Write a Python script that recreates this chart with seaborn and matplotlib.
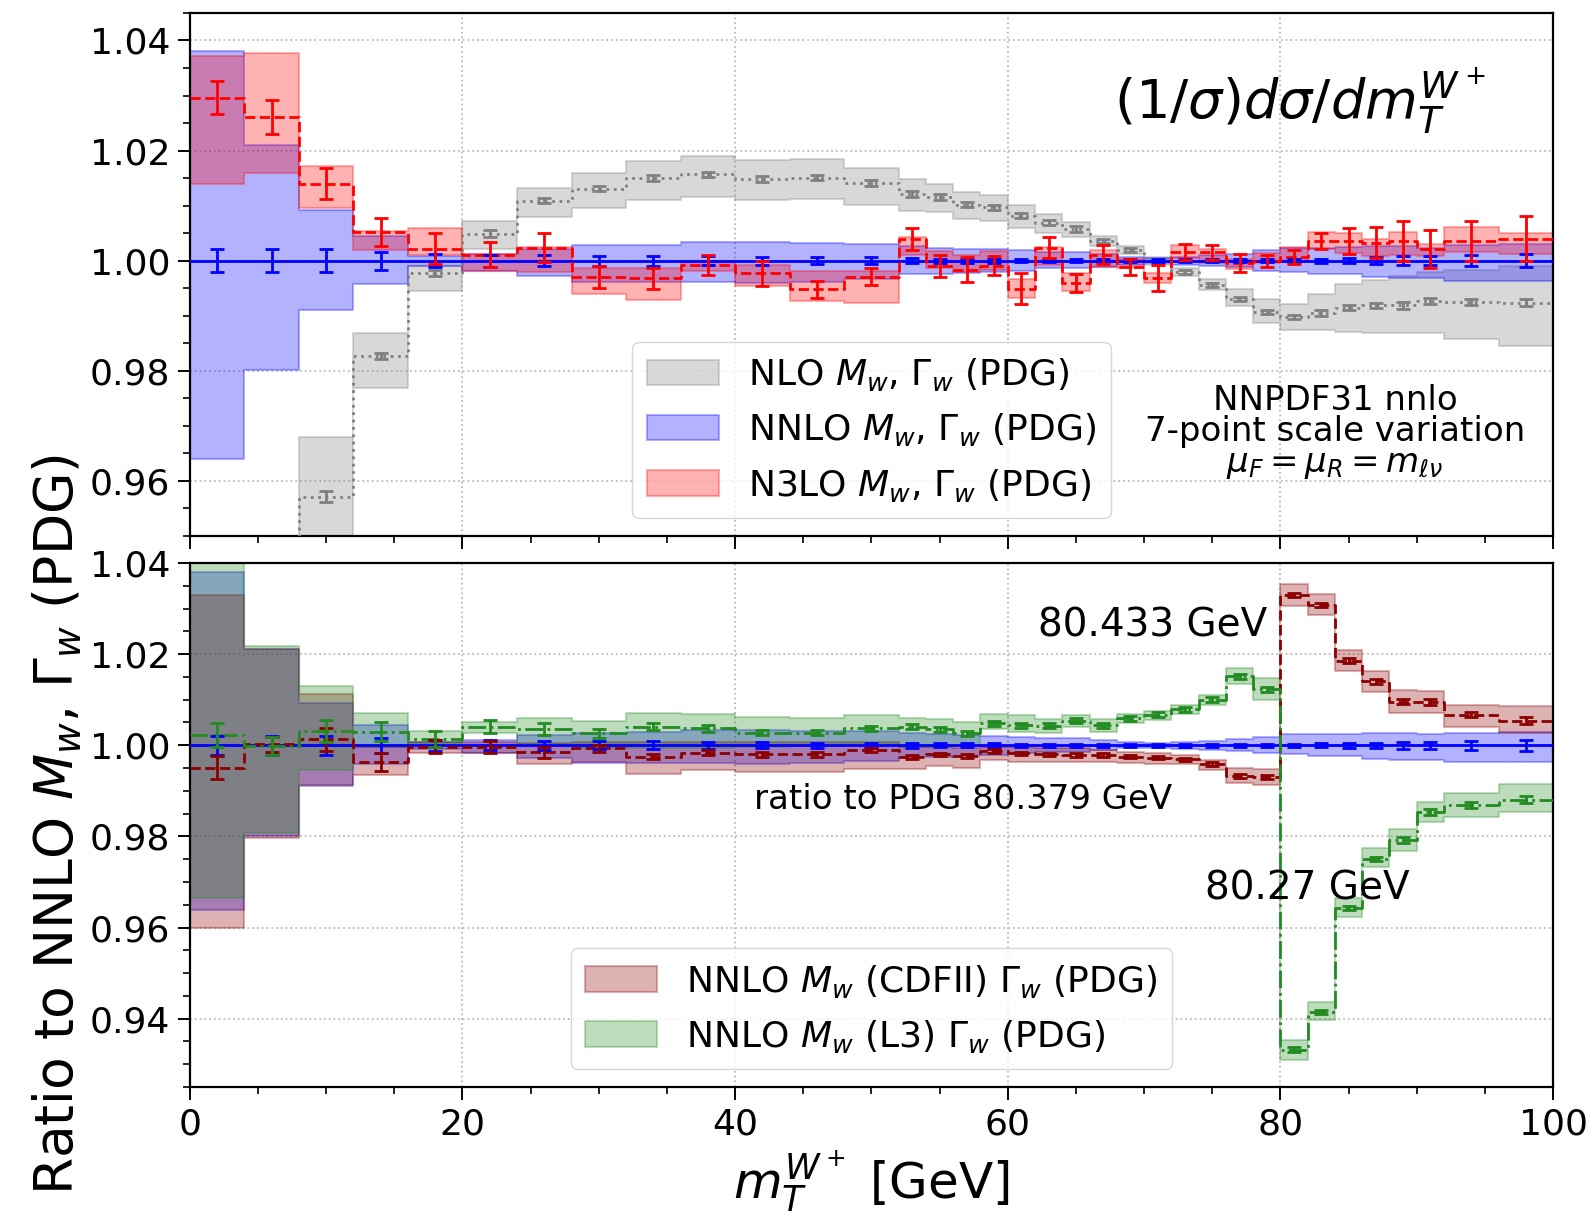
import numpy as np
import matplotlib
matplotlib.use("Agg")
import matplotlib.pyplot as plt
from matplotlib.patches import Patch
from matplotlib.ticker import MultipleLocator, FormatStrFormatter
import seaborn as sns

# ---------------------------------------------------------------- binning
bin_edges = [0, 4, 8, 12, 16, 20, 24, 28, 32, 36, 40, 44, 48, 52,
             54, 56, 58, 60, 62, 64, 66, 68, 70, 72, 74, 76, 78, 80,
             82, 84, 86, 88, 90, 92, 96, 100]

# ---------------------------------------------------------------- NNLO, PDG (reference)
nnlo_val = [1.0] * 35
nnlo_err = [0.0021, 0.0021, 0.0021, 0.0016, 0.0012, 0.0011, 0.0010, 0.0009,
            0.0009, 0.0008, 0.0007, 0.0006, 0.0006, 0.0005, 0.0004, 0.0004,
            0.0004, 0.0003, 0.0003, 0.0003, 0.0003, 0.0003, 0.0003, 0.0003,
            0.0003, 0.0003, 0.0003, 0.0003, 0.0004, 0.0005, 0.0006, 0.0008,
            0.0008, 0.0010, 0.0012]
nnlo_hi = [1.0381, 1.0211, 1.0093, 1.0045, 1.0008, 1.0012, 1.0022, 1.0028,
           1.0029, 1.0034, 1.0034, 1.0032, 1.0031, 1.0026, 1.0024, 1.0022,
           1.0021, 1.0019, 1.0016, 1.0016, 1.0012, 1.0007, 1.0005, 1.0007,
           1.0010, 1.0013, 1.0019, 1.0024, 1.0024, 1.0025, 1.0026, 1.0027,
           1.0024, 1.0028, 1.0030]
nnlo_lo = [0.9639, 0.9802, 0.9911, 0.9958, 0.9991, 0.9982, 0.9972, 0.9961,
           0.9961, 0.9961, 0.9960, 0.9962, 0.9966, 0.9975, 0.9975, 0.9977,
           0.9979, 0.9982, 0.9986, 0.9986, 0.9989, 0.9993, 0.9995, 0.9992,
           0.9990, 0.9988, 0.9982, 0.9980, 0.9976, 0.9976, 0.9970, 0.9968,
           0.9968, 0.9964, 0.9964]

# ---------------------------------------------------------------- NLO, PDG
nlo_val = [0.9000, 0.9250, 0.9571, 0.9827, 0.9978, 1.0049, 1.0109, 1.0131,
           1.0150, 1.0157, 1.0148, 1.0151, 1.0141, 1.0121, 1.0116, 1.0102,
           1.0097, 1.0082, 1.0069, 1.0058, 1.0036, 1.0019, 0.9999, 0.9979,
           0.9956, 0.9931, 0.9907, 0.9898, 0.9905, 0.9915, 0.9919, 0.9919,
           0.9927, 0.9925, 0.9924]
nlo_err = [0.0020, 0.0020, 0.0010, 0.0006, 0.0006, 0.0006, 0.0005, 0.0005,
           0.0005, 0.0005, 0.0005, 0.0005, 0.0005, 0.0005, 0.0005, 0.0005,
           0.0005, 0.0005, 0.0005, 0.0005, 0.0004, 0.0004, 0.0004, 0.0004,
           0.0004, 0.0004, 0.0004, 0.0004, 0.0005, 0.0005, 0.0005, 0.0006,
           0.0006, 0.0006, 0.0006]
nlo_hi = [0.9300, 0.9450, 0.9680, 0.9869, 0.9990, 1.0072, 1.0132, 1.0160,
          1.0181, 1.0190, 1.0183, 1.0185, 1.0169, 1.0148, 1.0140, 1.0124,
          1.0120, 1.0102, 1.0084, 1.0070, 1.0045, 1.0027, 1.0006, 0.9987,
          0.9967, 0.9948, 0.9931, 0.9922, 0.9939, 0.9957, 0.9965, 0.9972,
          0.9979, 0.9984, 0.9990]
nlo_lo = [0.8800, 0.9100, 0.9440, 0.9769, 0.9945, 1.0021, 1.0079, 1.0096,
          1.0111, 1.0115, 1.0110, 1.0112, 1.0102, 1.0090, 1.0088, 1.0075,
          1.0073, 1.0060, 1.0051, 1.0043, 1.0027, 1.0013, 0.9992, 0.9972,
          0.9946, 0.9917, 0.9887, 0.9875, 0.9874, 0.9871, 0.9869, 0.9868,
          0.9868, 0.9857, 0.9846]

# ---------------------------------------------------------------- N3LO, PDG
n3lo_val = [1.0296, 1.0261, 1.0140, 1.0052, 1.0022, 1.0011, 1.0024, 0.9971,
            0.9968, 0.9992, 0.9977, 0.9948, 0.9971, 1.0040, 0.9990, 0.9984,
            0.9991, 0.9949, 1.0024, 0.9960, 1.0011, 0.9989, 0.9969, 1.0016,
            1.0015, 0.9996, 0.9999, 1.0007, 1.0036, 1.0036, 1.0033, 1.0036,
            1.0021, 1.0036, 1.0040]
n3lo_err = [0.0030, 0.0031, 0.0028, 0.0025, 0.0028, 0.0023, 0.0027, 0.0020,
            0.0019, 0.0018, 0.0023, 0.0016, 0.0015, 0.0020, 0.0020, 0.0023,
            0.0017, 0.0028, 0.0019, 0.0016, 0.0017, 0.0015, 0.0024, 0.0014,
            0.0014, 0.0017, 0.0011, 0.0013, 0.0014, 0.0024, 0.0028, 0.0037,
            0.0034, 0.0036, 0.0041]
n3lo_hi = [1.0372, 1.0378, 1.0172, 1.0054, 1.0059, 1.0013, 1.0025, 0.9987,
           0.9987, 0.9999, 0.9993, 0.9981, 0.9981, 1.0043, 1.0017, 1.0010,
           1.0017, 0.9966, 1.0025, 0.9977, 1.0019, 1.0003, 0.9978, 1.0028,
           1.0022, 1.0004, 1.0014, 1.0025, 1.0053, 1.0051, 1.0040, 1.0053,
           1.0030, 1.0061, 1.0050]
n3lo_lo = [1.0140, 1.0160, 1.0095, 1.0019, 1.0011, 0.9981, 0.9980, 0.9939,
           0.9929, 0.9981, 0.9954, 0.9927, 0.9924, 1.0010, 0.9987, 0.9980,
           0.9983, 0.9933, 0.9992, 0.9945, 0.9989, 0.9987, 0.9960, 1.0005,
           0.9995, 0.9985, 0.9995, 1.0000, 1.0021, 1.0014, 1.0008, 1.0010,
           1.0008, 1.0015, 1.0012]

# ---------------------------------------------------------------- NNLO, M_W from CDF II
cdf_val = [0.9951, 1.0002, 1.0013, 0.9964, 0.9997, 0.9997, 0.9985, 0.9993,
           0.9975, 0.9984, 0.9980, 0.9980, 0.9990, 0.9974, 0.9980, 0.9976,
           0.9987, 0.9982, 0.9980, 0.9979, 0.9979, 0.9975, 0.9973, 0.9969,
           0.9959, 0.9932, 0.9931, 1.0330, 1.0308, 1.0186, 1.0140, 1.0096,
           1.0095, 1.0067, 1.0054]
cdf_err = [0.0026, 0.0017, 0.0025, 0.0020, 0.0015, 0.0013, 0.0012, 0.0008,
           0.0006, 0.0006, 0.0005, 0.0005, 0.0005, 0.0005, 0.0004, 0.0004,
           0.0004, 0.0004, 0.0004, 0.0004, 0.0004, 0.0004, 0.0004, 0.0004,
           0.0004, 0.0004, 0.0004, 0.0004, 0.0004, 0.0005, 0.0005, 0.0006,
           0.0006, 0.0006, 0.0007]
cdf_hi = [1.0330, 1.0212, 1.0112, 0.9997, 1.0008, 1.0008, 1.0004, 1.0008,
          1.0008, 1.0008, 1.0008, 1.0008, 1.0008, 0.9997, 0.9997, 0.9993,
          0.9997, 0.9997, 0.9993, 0.9993, 0.9990, 0.9986, 0.9984, 0.9979,
          0.9968, 0.9950, 0.9949, 1.0355, 1.0333, 1.0208, 1.0163, 1.0122,
          1.0120, 1.0089, 1.0086]
cdf_lo = [0.9599, 0.9797, 0.9913, 0.9935, 0.9982, 0.9983, 0.9959, 0.9964,
          0.9938, 0.9945, 0.9942, 0.9942, 0.9948, 0.9947, 0.9955, 0.9950,
          0.9967, 0.9964, 0.9964, 0.9964, 0.9964, 0.9962, 0.9960, 0.9958,
          0.9946, 0.9918, 0.9913, 1.0306, 1.0286, 1.0164, 1.0118, 1.0070,
          1.0070, 1.0041, 1.0026]

# ---------------------------------------------------------------- NNLO, M_W from L3
l3_val = [1.0023, 0.9998, 1.0032, 1.0030, 1.0014, 1.0041, 1.0036, 1.0026,
          1.0041, 1.0037, 1.0028, 1.0028, 1.0037, 1.0041, 1.0035, 1.0026,
          1.0048, 1.0044, 1.0043, 1.0054, 1.0044, 1.0059, 1.0067, 1.0079,
          1.0100, 1.0151, 1.0123, 0.9332, 0.9415, 0.9643, 0.9750, 0.9792,
          0.9854, 0.9869, 0.9881]
l3_err = [0.0026, 0.0020, 0.0024, 0.0020, 0.0017, 0.0015, 0.0013, 0.0010,
          0.0008, 0.0007, 0.0006, 0.0006, 0.0006, 0.0005, 0.0005, 0.0005,
          0.0005, 0.0005, 0.0005, 0.0005, 0.0005, 0.0005, 0.0005, 0.0005,
          0.0005, 0.0005, 0.0005, 0.0005, 0.0005, 0.0005, 0.0005, 0.0006,
          0.0006, 0.0006, 0.0007]
l3_hi = [1.0420, 1.0218, 1.0130, 1.0070, 1.0032, 1.0052, 1.0060, 1.0053,
         1.0070, 1.0069, 1.0063, 1.0060, 1.0066, 1.0060, 1.0058, 1.0050,
         1.0069, 1.0066, 1.0057, 1.0066, 1.0057, 1.0069, 1.0076, 1.0088,
         1.0110, 1.0169, 1.0147, 0.9354, 0.9437, 0.9664, 0.9774, 0.9816,
         0.9876, 0.9896, 0.9915]
l3_lo = [0.9664, 0.9807, 0.9946, 0.9997, 1.0005, 1.0026, 0.9999, 0.9995,
         0.9995, 0.9995, 0.9997, 1.0000, 1.0005, 0.9996, 0.9996, 0.9998,
         1.0035, 1.0030, 1.0028, 1.0040, 1.0030, 1.0048, 1.0056, 1.0068,
         1.0088, 1.0134, 1.0100, 0.9310, 0.9397, 0.9624, 0.9733, 0.9769,
         0.9832, 0.9843, 0.9854]

# ---------------------------------------------------------------- style
sns.set_style("ticks")
plt.rcParams.update({
    "font.family": ["DejaVu Sans"],
    "mathtext.fontset": "dejavusans",
    "text.color": "black",
    "axes.labelcolor": "black",
    "axes.edgecolor": "black",
    "xtick.color": "black", "ytick.color": "black",
    "axes.linewidth": 1.6,
    "xtick.major.size": 9, "ytick.major.size": 9,
    "xtick.minor.size": 5, "ytick.minor.size": 5,
    "xtick.major.width": 1.4, "ytick.major.width": 1.4,
    "xtick.minor.width": 1.2, "ytick.minor.width": 1.2,
    "xtick.major.pad": 6, "ytick.major.pad": 5,
    "xtick.labelsize": 26, "ytick.labelsize": 26,
    "xtick.direction": "out", "ytick.direction": "out",
})

edges = np.array(bin_edges, dtype=float)
centers = 0.5 * (edges[:-1] + edges[1:])


def ext(v):
    v = np.asarray(v, dtype=float)
    return np.append(v, v[-1])


def draw_band(ax, lo, hi, color):
    ax.fill_between(edges, ext(lo), ext(hi), step="post", color=color,
                    alpha=0.3, lw=1.5, zorder=1)


def draw_central(ax, val, err, color, ls):
    sns.lineplot(x=edges, y=ext(val), ax=ax, color=color, linestyle=ls,
                 lw=2.0, drawstyle="steps-post", estimator=None, sort=False,
                 zorder=3)
    ax.errorbar(centers, val, yerr=err, fmt="none", ecolor=color,
                elinewidth=2.0, capsize=5, capthick=2.0, zorder=4)


def style_axis(ax, ylo, yhi):
    ax.set_xlim(0, 100)
    ax.set_ylim(ylo, yhi)
    ax.xaxis.set_major_locator(MultipleLocator(20))
    ax.xaxis.set_minor_locator(MultipleLocator(5))
    ax.yaxis.set_major_locator(MultipleLocator(0.02))
    ax.yaxis.set_minor_locator(MultipleLocator(0.005))
    ax.yaxis.set_major_formatter(FormatStrFormatter("%.2f"))
    ax.grid(True, which="major", color="#bbbbbb", linestyle=":", lw=1.3)
    ax.set_axisbelow(True)
    for s in ax.spines.values():
        s.set_visible(True)
        s.set_color("black")
    ax.set_xlabel("")
    ax.set_ylabel("")


fig = plt.figure(figsize=(15.95, 12.21), dpi=100)
ax1 = fig.add_axes([0.119, 0.561, 0.8547, 0.4284])
ax2 = fig.add_axes([0.119, 0.1097, 0.8547, 0.4292])

# ---------------------------------------------------------------- upper panel
draw_band(ax1, nlo_lo, nlo_hi, "gray")
draw_band(ax1, nnlo_lo, nnlo_hi, "blue")
draw_band(ax1, n3lo_lo, n3lo_hi, "red")
draw_central(ax1, nlo_val, nlo_err, "gray", ":")
draw_central(ax1, nnlo_val, nnlo_err, "blue", "-")
draw_central(ax1, n3lo_val, n3lo_err, "red", "--")
style_axis(ax1, 0.95, 1.045)
ax1.tick_params(axis="x", labelbottom=False)

ax1.text(67.8, 1.0257, r"$(1/\sigma)d\sigma/dm_T^{W^+}$", fontsize=39,
         ha="left", va="baseline")
ax1.text(84.0, 0.9728, "NNPDF31 nnlo", fontsize=24.5, ha="center",
         va="baseline")
ax1.text(84.0, 0.9673, "7-point scale variation", fontsize=24.5,
         ha="center", va="baseline")
ax1.text(84.0, 0.9617, r"$\mu_F = \mu_R = m_{\ell\nu}$", fontsize=24.5,
         ha="center", va="baseline")

h_top = [Patch(facecolor=c, edgecolor=c, alpha=0.3, lw=1.5)
         for c in ("gray", "blue", "red")]
ax1.legend(h_top, [r"NLO $M_w$, $\Gamma_w$ (PDG)",
                   r"NNLO $M_w$, $\Gamma_w$ (PDG)",
                   r"N3LO $M_w$, $\Gamma_w$ (PDG)"],
           loc="lower center", fontsize=26, framealpha=0.8,
           labelspacing=0.5)

# ---------------------------------------------------------------- lower panel
draw_band(ax2, nnlo_lo, nnlo_hi, "blue")
draw_band(ax2, cdf_lo, cdf_hi, "darkred")
draw_band(ax2, l3_lo, l3_hi, "forestgreen")
draw_central(ax2, nnlo_val, nnlo_err, "blue", "-")
draw_central(ax2, cdf_val, cdf_err, "darkred", "--")
draw_central(ax2, l3_val, l3_err, "forestgreen", "-.")
style_axis(ax2, 0.925, 1.04)

ax2.text(79.0, 1.0238, "80.433 GeV", fontsize=28, ha="right", va="baseline")
ax2.text(41.4, 0.9860, "ratio to PDG 80.379 GeV", fontsize=24.5, ha="left",
         va="baseline")
ax2.text(74.5, 0.9662, "80.27 GeV", fontsize=28, ha="left", va="baseline")

h_bot = [Patch(facecolor=c, edgecolor=c, alpha=0.3, lw=1.5)
         for c in ("darkred", "forestgreen")]
ax2.legend(h_bot, [r"NNLO $M_w$ (CDFII) $\Gamma_w$ (PDG)",
                   r"NNLO $M_w$ (L3) $\Gamma_w$ (PDG)"],
           loc="lower center", fontsize=26, framealpha=0.8,
           labelspacing=0.5)

ax2.set_xlabel(r"$m_T^{W^+}$ [GeV]", fontsize=36, labelpad=5)
ax2.set_ylabel(r"Ratio to NNLO $M_w$, $\Gamma_w$ (PDG)", fontsize=38.5,
               labelpad=4)

fig.savefig("out.png", dpi=100)
